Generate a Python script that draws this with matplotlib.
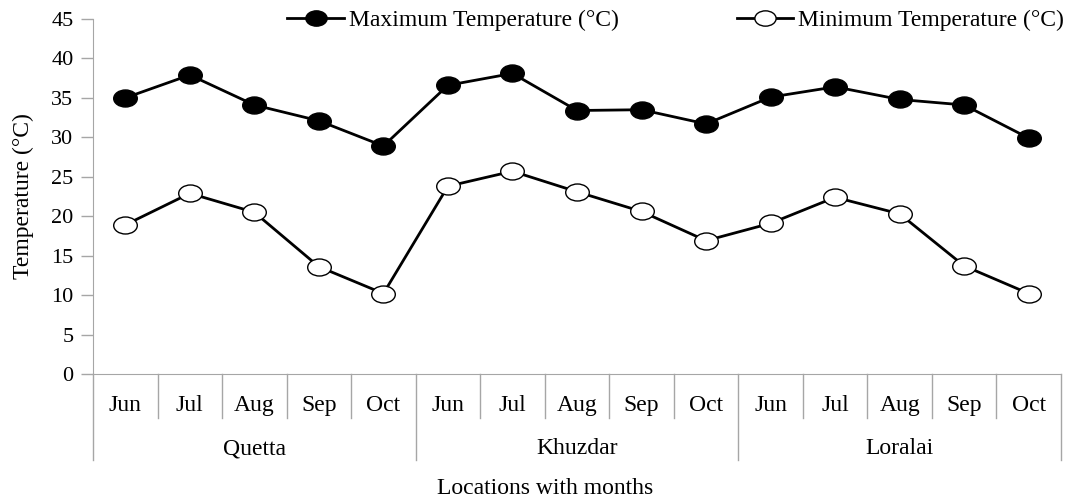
import numpy as np
import matplotlib.pyplot as plt
from matplotlib.path import Path
from matplotlib.transforms import Affine2D

plt.rcParams['font.family'] = ['Liberation Serif', 'DejaVu Serif']

locations = ['Quetta', 'Khuzdar', 'Loralai']
months = ['Jun', 'Jul', 'Aug', 'Sep', 'Oct']

t_max = [35.0, 37.9, 34.1, 32.1, 28.9,
         36.6, 38.1, 33.4, 33.5, 31.7,
         35.1, 36.4, 34.8, 34.1, 29.9]
t_min = [18.9, 22.9, 20.5, 13.6, 10.2,
         23.8, 25.7, 23.1, 20.6, 16.9,
         19.1, 22.4, 20.3, 13.7, 10.2]

# slightly wide circle, like the original markers
oval = Path.unit_circle().transformed(Affine2D().scale(1.0, 0.72))

fig = plt.figure(figsize=(10.66, 4.99), dpi=100)
ax = fig.add_axes([93/1066, (499-374)/499, (1061-93)/1066, 355/499])

x = np.arange(len(t_max))
grey = '#a6a6a6'
fs = 17
ax.plot(x, t_max, color='black', lw=2, marker=oval, ms=17,
        mfc='black', mec='black', mew=1, label='Maximum Temperature (°C)')
ax.plot(x, t_min, color='black', lw=2, marker=oval, ms=17,
        mfc='white', mec='black', mew=1, label='Minimum Temperature (°C)')

ax.set_xlim(-0.5, len(x) - 0.5)
ax.set_ylim(0, 45)
ax.set_yticks(range(0, 50, 5))
ax.tick_params(axis='y', labelsize=16, length=9, width=1, color=grey, pad=5)
ax.set_xticks([])
for s in ['top', 'right']:
    ax.spines[s].set_visible(False)
ax.spines['left'].set_color(grey)
ax.spines['bottom'].set_color(grey)

ax.set_ylabel('Temperature (°C)', fontsize=fs)
ax.yaxis.set_label_coords(-59/968, 0.5)

# two-level category axis
tr = ax.get_xaxis_transform()
for i in range(len(x)):
    ax.text(i, -0.09, months[i % 5], transform=tr, ha='center', va='center', fontsize=fs)
    if i % 5 != 0:
        ax.plot([i - 0.5, i - 0.5], [0, -0.124], transform=tr, color=grey, lw=1, clip_on=False)
for g, name in enumerate(locations):
    ax.text(g * 5 + 2, -0.21, name, transform=tr, ha='center', va='center', fontsize=fs)
for g in range(len(locations) + 1):
    ax.plot([g * 5 - 0.5] * 2, [0, -0.242], transform=tr, color=grey, lw=1, clip_on=False)

fig.text(545/1066, 1 - 489/499, 'Locations with months', ha='center', va='center', fontsize=fs)

ax.legend(loc='center right', bbox_to_anchor=(1064/1066, 1 - 20/499),
          bbox_transform=fig.transFigure, ncol=2, frameon=False, fontsize=fs,
          columnspacing=5.0, handlelength=2.4, handletextpad=0.2, borderpad=0,
          borderaxespad=0, markerscale=0.9)

fig.savefig('out.png', dpi=100)
